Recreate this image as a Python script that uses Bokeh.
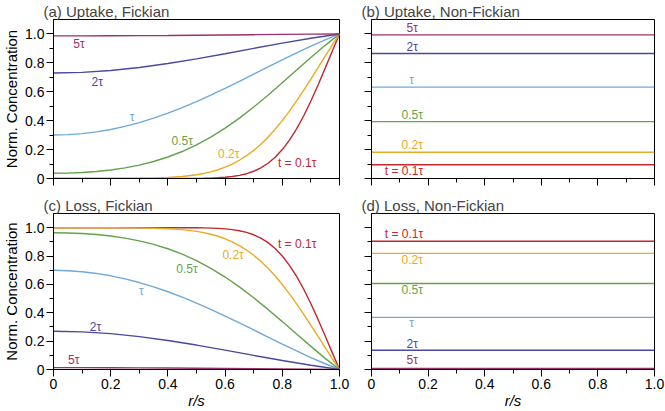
from bokeh.plotting import figure
from bokeh.layouts import row, column
from bokeh.models import FixedTicker, CustomJSTickFormatter, Range1d
from bokeh.embed import file_html
from bokeh.resources import INLINE
from bokeh.core.properties import value

FONT = "Liberation Sans"

# ---------------- data ----------------
series_names = ["t = 0.1τ", "0.2τ", "0.5τ", "τ", "2τ", "5τ"]
series_colors = ["#c1272d", "#e8ab24", "#63a34a", "#6fa9dc", "#4a489f", "#9c2f6d"]

r_fine = [0, 0.1, 0.2, 0.3, 0.35, 0.4, 0.45, 0.5, 0.525, 0.55, 0.575, 0.6, 0.625, 0.65,
          0.675, 0.7, 0.725, 0.75, 0.775, 0.8, 0.825, 0.85, 0.875, 0.9, 0.925, 0.95, 0.975, 1.0]
r_mid = [0, 0.05, 0.1, 0.15, 0.2, 0.25, 0.3, 0.35, 0.4, 0.45, 0.5, 0.55, 0.6, 0.65, 0.7,
         0.75, 0.8, 0.85, 0.9, 0.95, 1.0]
r_coarse = [0, 0.1, 0.2, 0.3, 0.4, 0.5, 0.6, 0.7, 0.8, 0.9, 1.0]
r_flat = [0, 1.0]

# (a) uptake, Fickian
uptake_01 = [0, 0, 0, 0, 0, 0.0001, 0.0002, 0.0009, 0.0016, 0.0029, 0.0049, 0.0083, 0.0135, 0.0215,
             0.0332, 0.0501, 0.0736, 0.1054, 0.1471, 0.2000, 0.2654, 0.3435, 0.4342, 0.5360, 0.6468,
             0.7636, 0.8827, 1.0]
uptake_02 = [0, 0, 0.0004, 0.0017, 0.0036, 0.0072, 0.0140, 0.0260, 0.0349, 0.0462, 0.0605, 0.0782,
             0.1000, 0.1263, 0.1577, 0.1945, 0.2372, 0.2857, 0.3403, 0.4006, 0.4663, 0.5367, 0.6110,
             0.6882, 0.7670, 0.8462, 0.9243, 1.0]
uptake_05 = [0.0361, 0.0374, 0.0414, 0.0485, 0.0590, 0.0735, 0.0928, 0.1175, 0.1486, 0.1867, 0.2325,
             0.2863, 0.3481, 0.4177, 0.4942, 0.5763, 0.6622, 0.7500, 0.8371, 0.9213, 1.0]
uptake_1 = [0.3006, 0.3033, 0.3106, 0.3226, 0.3394, 0.3609, 0.3869, 0.4173, 0.4517, 0.4900, 0.5316,
            0.5762, 0.6231, 0.6717, 0.7214, 0.7714, 0.8210, 0.8694, 0.9158, 0.9595, 1.0]
uptake_2 = [0.7300, 0.7344, 0.7473, 0.7680, 0.7953, 0.8277, 0.8633, 0.9003, 0.9366, 0.9704, 1.0]
uptake_5 = [0.9865, 0.9867, 0.9874, 0.9884, 0.9898, 0.9914, 0.9932, 0.9950, 0.9969, 0.9985, 1.0]

# (c) loss, Fickian
loss_01 = [1, 1, 1, 1, 1, 0.9999, 0.9998, 0.9991, 0.9984, 0.9971, 0.9951, 0.9917, 0.9865, 0.9785,
           0.9668, 0.9499, 0.9264, 0.8946, 0.8529, 0.8000, 0.7346, 0.6565, 0.5658, 0.4640, 0.3532,
           0.2364, 0.1173, 0.0]
loss_02 = [1, 1, 0.9996, 0.9983, 0.9964, 0.9928, 0.9860, 0.9740, 0.9651, 0.9538, 0.9395, 0.9218,
           0.9000, 0.8737, 0.8423, 0.8055, 0.7628, 0.7143, 0.6597, 0.5994, 0.5337, 0.4633, 0.3890,
           0.3118, 0.2330, 0.1538, 0.0757, 0.0]
loss_05 = [0.9639, 0.9626, 0.9586, 0.9515, 0.9410, 0.9265, 0.9072, 0.8825, 0.8514, 0.8133, 0.7675,
           0.7137, 0.6519, 0.5823, 0.5058, 0.4237, 0.3378, 0.2500, 0.1629, 0.0787, 0.0]
loss_1 = [0.6994, 0.6967, 0.6894, 0.6774, 0.6606, 0.6391, 0.6131, 0.5827, 0.5483, 0.5100, 0.4684,
          0.4238, 0.3769, 0.3283, 0.2786, 0.2286, 0.1790, 0.1306, 0.0842, 0.0405, 0.0]
loss_2 = [0.2700, 0.2656, 0.2527, 0.2320, 0.2047, 0.1723, 0.1367, 0.0997, 0.0634, 0.0296, 0.0]
loss_5 = [0.0135, 0.0133, 0.0126, 0.0116, 0.0102, 0.0086, 0.0068, 0.0050, 0.0031, 0.0015, 0.0]

# (b), (d) non-Fickian: uniform levels
nonfick_uptake = [0.0952, 0.1813, 0.3935, 0.6321, 0.8647, 0.9933]
nonfick_loss = [0.9048, 0.8187, 0.6065, 0.3679, 0.1353, 0.0067]

x_ticks = [0, 0.2, 0.4, 0.6, 0.8, 1.0]
x_minor = [0.1, 0.3, 0.5, 0.7, 0.9]
y_ticks = [0, 0.2, 0.4, 0.6, 0.8, 1.0]
y_minor = [0.1, 0.3, 0.5, 0.7, 0.9]

# label placements (data coordinates), same order as series_names
a_lab_x = [0.852, 0.613, 0.45, 0.275, 0.153, 0.089]
a_lab_y = [0.104, 0.167, 0.262, 0.428, 0.671, 0.93]
b_lab_x = [0.115, 0.144, 0.144, 0.142, 0.144, 0.144]
b_lab_y = [0.051, 0.230, 0.438, 0.682, 0.907, 1.04]
c_lab_x = [0.852, 0.628, 0.467, 0.307, 0.147, 0.071]
c_lab_y = [0.887, 0.806, 0.706, 0.556, 0.301, 0.065]
d_lab_x = [0.115, 0.144, 0.144, 0.142, 0.144, 0.144]
d_lab_y = [0.956, 0.775, 0.560, 0.329, 0.178, 0.065]

LABEL_FMT = "return tick == 0 ? '0' : tick.toFixed(1);"
EMPTY_FMT = "return '';"


def make_panel(title, width, height, left_b, right_b, top_b, bottom_b, xlab, ylab):
    p = figure(width=width, height=height, output_backend="svg", toolbar_location=None,
               x_range=Range1d(0, 1), y_range=Range1d(0, 1.1),
               min_border_left=left_b, min_border_right=right_b,
               min_border_top=top_b, min_border_bottom=bottom_b,
               background_fill_color="white", border_fill_color="white")
    p.outline_line_color = "black"
    p.outline_line_width = 1
    p.grid.visible = False
    p.title.text = title
    p.title.text_font = FONT
    p.title.text_font_size = "15px"
    p.title.text_font_style = "normal"
    p.title.offset = -10
    p.title.standoff = 0
    for ax, ticks, minor, lab in ((p.xaxis[0], x_ticks, x_minor, xlab),
                                  (p.yaxis[0], y_ticks, y_minor, ylab)):
        ax.ticker = FixedTicker(ticks=ticks, minor_ticks=minor)
        ax.axis_line_color = "black"
        ax.major_tick_line_color = "black"
        ax.minor_tick_line_color = "black"
        ax.major_tick_out = 7
        ax.major_tick_in = 0
        ax.minor_tick_out = 4
        ax.minor_tick_in = 0
        ax.major_label_text_font = FONT
        ax.major_label_text_color = "black"
        ax.major_label_standoff = 2
        ax.axis_label_text_font = FONT
        ax.axis_label_text_font_size = "15px"
        ax.axis_label_text_color = "black"
        ax.axis_label_standoff = 0
        if lab:
            ax.formatter = CustomJSTickFormatter(code=LABEL_FMT)
            ax.major_label_text_font_size = "14px"
        else:
            ax.formatter = CustomJSTickFormatter(code=EMPTY_FMT)
            ax.major_label_text_font_size = "0px"
    p.yaxis.axis_label_standoff = 2
    return p


def add_labels(p, xs, ys):
    p.text(x=xs, y=ys, text=series_names, text_color=series_colors,
           text_font=value(FONT), text_font_size=value("12px"),
           text_align="center", text_baseline="middle")


W_L, W_R = 354, 311
H_T, H_B = 190, 221

pa = make_panel("(a) Uptake, Fickian", W_L, H_T, 53, 15, 19, 12, False, True)
pb = make_panel("(b) Uptake, Non-Fickian", W_R, H_T, 17, 11, 19, 12, False, False)
pc = make_panel("(c) Loss, Fickian", W_L, H_B, 53, 15, 23, 41, True, True)
pd = make_panel("(d) Loss, Non-Fickian", W_R, H_B, 17, 11, 23, 41, True, False)

pa.yaxis.axis_label = "Norm. Concentration"
pc.yaxis.axis_label = "Norm. Concentration"
for p in (pa, pc, pb, pd):
    p.yaxis.axis_label_text_font_style = "normal"
pc.xaxis.axis_label = "r/s"
pd.xaxis.axis_label = "r/s"
pc.xaxis.axis_label_text_font_style = "italic"
pd.xaxis.axis_label_text_font_style = "italic"

LW = 1.4
fick_up = [(r_fine, uptake_01), (r_fine, uptake_02), (r_mid, uptake_05),
           (r_mid, uptake_1), (r_coarse, uptake_2), (r_coarse, uptake_5)]
fick_loss = [(r_fine, loss_01), (r_fine, loss_02), (r_mid, loss_05),
             (r_mid, loss_1), (r_coarse, loss_2), (r_coarse, loss_5)]

for (xs, ys), col in zip(fick_up, series_colors):
    pa.line(xs, ys, line_color=col, line_width=LW)
for (xs, ys), col in zip(fick_loss, series_colors):
    pc.line(xs, ys, line_color=col, line_width=LW)
for lev, col in zip(nonfick_uptake, series_colors):
    pb.line(r_flat, [lev, lev], line_color=col, line_width=LW)
for lev, col in zip(nonfick_loss, series_colors):
    pd.line(r_flat, [lev, lev], line_color=col, line_width=LW)

add_labels(pa, a_lab_x, a_lab_y)
add_labels(pb, b_lab_x, b_lab_y)
add_labels(pc, c_lab_x, c_lab_y)
add_labels(pd, d_lab_x, d_lab_y)

layout = column(row(pa, pb, spacing=0), row(pc, pd, spacing=0), spacing=0)

open("out.html", "w").write(file_html(layout, INLINE))
